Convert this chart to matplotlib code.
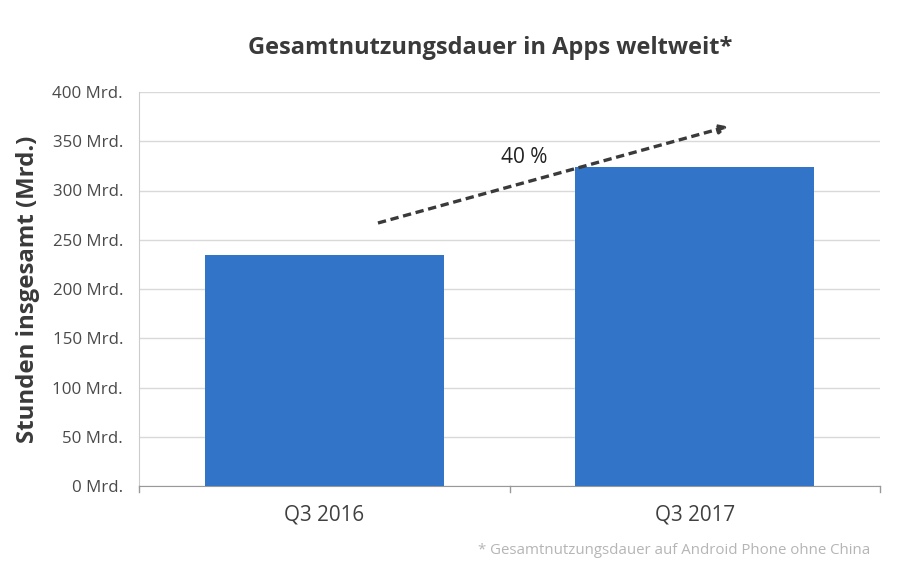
import matplotlib
matplotlib.use("Agg")
import matplotlib.pyplot as plt

plt.rcParams["font.family"] = ["Open Sans", "DejaVu Sans"]

quarters = ["Q3 2016", "Q3 2017"]
hours = [235, 324]
y_ticks = [0, 50, 100, 150, 200, 250, 300, 350, 400]
y_labels = [f"{v} Mrd." for v in y_ticks]

fig = plt.figure(figsize=(9, 5.68), dpi=100)
ax = fig.add_axes([139 / 900, 1 - 486 / 568, (880 - 139) / 900, (486 - 92) / 568])

ax.bar(range(len(quarters)), hours, width=0.645, color="#3274c8", zorder=3)
ax.set_xlim(-0.5, 1.5)
ax.set_ylim(0, 400)
ax.set_yticks(y_ticks)
ax.set_yticklabels(y_labels, fontsize=12.2, color="#4a4a4a")
ax.set_xticks([0, 1])
ax.set_xticklabels(quarters, fontsize=14.9, color="#404040")
ax.tick_params(axis="y", length=0, pad=11.5)
ax.tick_params(axis="x", length=0, pad=13)
ax.grid(axis="y", color="#d9d9d9", linewidth=1, zorder=0)

# small ticks between the categories
for xt in [-0.5, 0.5, 1.5]:
    ax.plot([xt, xt], [0, -6], color="#999999", linewidth=1, clip_on=False, zorder=3)

for side in ["top", "right"]:
    ax.spines[side].set_visible(False)
ax.spines["left"].set_color("#cccccc")
ax.spines["bottom"].set_color("#999999")

ax.set_ylabel("Stunden insgesamt (Mrd.)", fontsize=17.3, fontweight="bold", color="#3a3a3a")
ax.yaxis.set_label_coords(-0.134, 0.5)

# growth arrow
ax.annotate(
    "",
    xy=(1.09, 365),
    xytext=(0.145, 267),
    arrowprops=dict(arrowstyle="-|>", linestyle=(0, (2.5, 1.4)), linewidth=2.4, color="#3a3a3a",
                    shrinkA=0, shrinkB=0, capstyle="butt", mutation_scale=13),
    zorder=5,
)
ax.text(0.54, 334, "40 %", fontsize=15, color="#222222", ha="center", va="center", zorder=6)

fig.text(490 / 900, 1 - 48 / 568, "Gesamtnutzungsdauer in Apps weltweit*", fontsize=17,
         fontweight="bold", color="#3a3a3a", ha="center", va="center")
fig.text(870 / 900, 1 - 550 / 568, "* Gesamtnutzungsdauer auf Android Phone ohne China",
         fontsize=10.85, color="#b5b5b5", ha="right", va="center")

fig.savefig("out.png", dpi=100)
